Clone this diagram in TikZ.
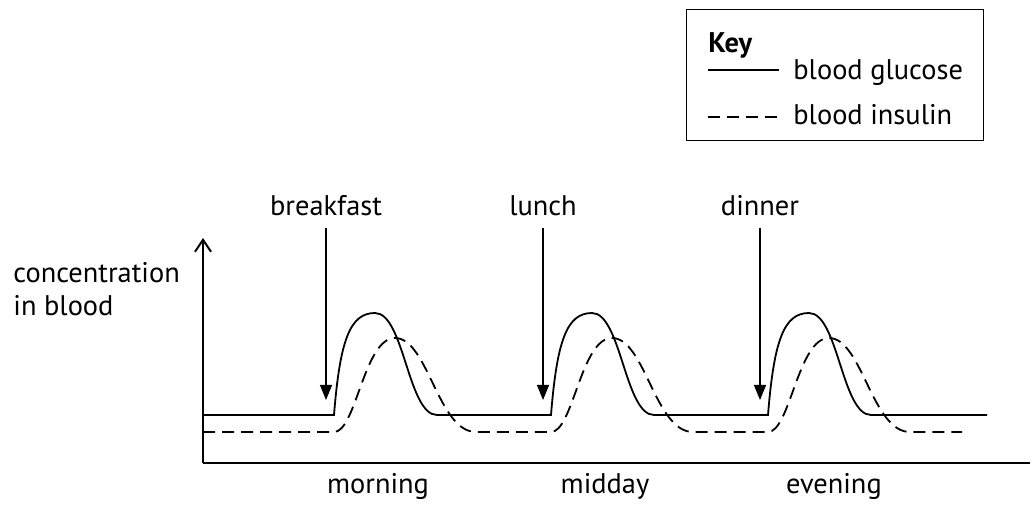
\documentclass[tikz,border=0pt]{standalone}
\usepackage{fontspec}
\setmainfont{PT Sans}
\usetikzlibrary{arrows.meta,positioning}

\begin{document}
\begin{tikzpicture}[x=0.5pt,y=-0.5pt,
  font=\fontsize{14.2}{16.5}\selectfont,
  axis/.style={line width=1pt},
  glucose/.style={line width=0.9pt},
  insulin/.style={line width=0.9pt,dash pattern=on 6pt off 3.5pt},
  meal/.style={inner xsep=0pt,inner ysep=5.5pt},
  feed/.style={line width=0.6pt,-{Triangle[length=7.5pt,width=6pt]}}]
\useasboundingbox (0,0) rectangle (1033,507);
% key
\node[draw,line width=0.7pt,minimum width=148.5pt,minimum height=65.5pt,
  anchor=north west,inner sep=0pt] (key) at (686,9) {};
\node[anchor=base west,inner sep=0pt,font=\fontsize{14.2}{16.5}\selectfont\bfseries] (keytitle) at (708,53) {Key};
\node[anchor=base west,inner sep=0pt] (keyglucose) at (793,80) {blood glucose};
\node[anchor=base west,inner sep=0pt] (keyinsulin) at (793,125) {blood insulin};
\draw[glucose] (708,70) -- (779,70);
\draw[insulin] (708,117) -- (779,117);

% axes
\coordinate (origin) at (203,463);
\coordinate (ytop) at (203,238);
\coordinate (xend) at (1030,463);
\draw[axis,-{Straight Barb[length=6pt,width=8pt]}] (origin) -- (ytop);
\draw[axis] (origin) -- (xend);
\node[anchor=base west,align=left,inner sep=0pt] (ylabel) at (13,316) {concentration\\in blood};

% curves
\draw[glucose] (203,415) \foreach \t in {334,551,768}{
  -- (\t,415) .. controls (\t+6,340) and (\t+16,313) .. (\t+41,313)
  .. controls (\t+70,313) and (\t+74,415) .. (\t+103,415)} -- (987,415);
\draw[insulin] (203,432) \foreach \t in {334,551,768}{
  -- (\t,432) .. controls (\t+22,432) and (\t+30,338) .. (\t+61,338)
  .. controls (\t+94,338) and (\t+104,432) .. (\t+142,432)} -- (962,432);

% meals
\foreach \t/\meal in {334/breakfast,551/lunch,768/dinner}{
  \node[meal,anchor=base] (\meal) at (\t-8,216) {\meal};
  \coordinate (\meal-tip) at (\t-8,400);
  \draw[feed] (\meal) -- (\meal-tip);
}
% times of day
\foreach \x/\part in {378/morning,605/midday,834/evening}
  \node[anchor=base] (\part) at (\x,493) {\part};
\end{tikzpicture}
\end{document}
